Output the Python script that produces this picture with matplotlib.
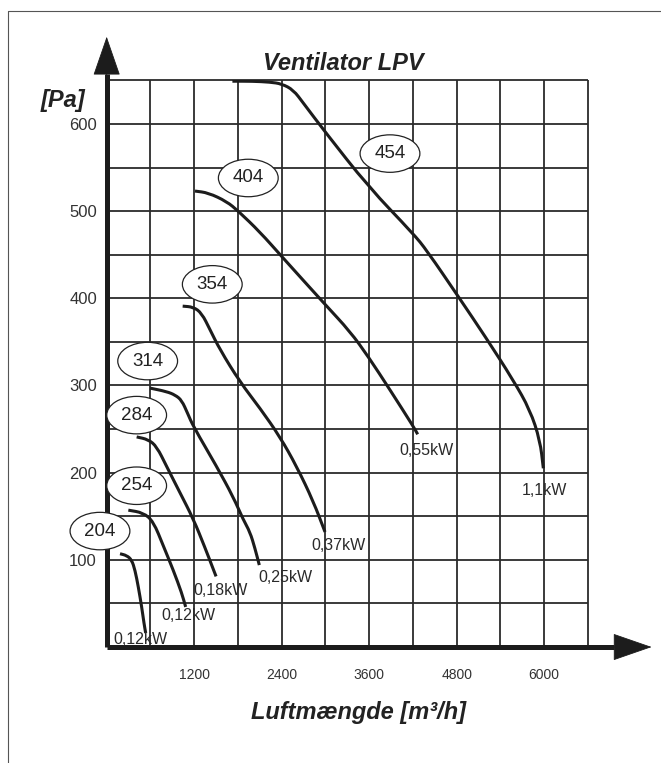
import numpy as np
import matplotlib.pyplot as plt
from matplotlib.patches import Ellipse, PathPatch
from matplotlib.path import Path

plt.rcParams['font.family'] = ['Liberation Sans', 'DejaVu Sans']

# fan curves: air flow [m3/h] vs pressure [Pa]
fan_names = ['204', '254', '284', '314', '354', '404', '454']
fan_power = ['0,12kW', '0,12kW', '0,18kW', '0,25kW', '0,37kW', '0,55kW', '1,1kW']

flow_204 = [183, 274, 343, 389, 434, 480, 512, 535]
pres_204 = [107, 105, 100, 88, 69, 46, 27, 16]

flow_254 = [297, 502, 640, 777, 914, 1029, 1083]
pres_254 = [157, 154, 144, 116, 88, 62, 46]

flow_284 = [411, 571, 686, 823, 1005, 1188, 1348, 1463, 1500]
pres_284 = [241, 238, 230, 207, 177, 147, 114, 89, 81]

flow_314 = [594, 823, 940, 1029, 1110, 1188, 1509, 1736, 1873, 1965, 2034, 2093]
pres_314 = [297, 293, 289, 283, 268, 253, 207, 172, 146, 132, 113, 94]

flow_354 = [1042, 1188, 1303, 1417, 1554, 1828, 2102, 2377, 2606, 2834, 2994]
pres_354 = [391, 390, 383, 364, 341, 304, 274, 241, 207, 167, 132]

flow_404 = [1211, 1393, 1646, 1805, 2102, 2400, 2994, 3337, 3588, 3885, 4205, 4265]
pres_404 = [523, 521, 511, 500, 476, 448, 393, 362, 333, 295, 253, 244]

flow_454 = [1724, 2000, 2240, 2400, 2560, 2696, 2994, 3588, 4205, 4389, 4822, 5200,
            5576, 5805, 5943, 5988]
pres_454 = [649, 649, 648, 646, 639, 624, 591, 528, 474, 455, 402, 355, 306, 272, 237, 205]

fan_flows = [flow_204, flow_254, flow_284, flow_314, flow_354, flow_404, flow_454]
fan_pres = [pres_204, pres_254, pres_284, pres_314, pres_354, pres_404, pres_454]

# where the size tag (ellipse) and the motor power label sit
tag_x = [-92, 411, 411, 562, 1448, 1942, 3885]
tag_y = [133, 185, 266, 328, 416, 538, 566]
power_x = [88, 754, 1188, 2079, 2811, 4013, 5691]
power_y = [4, 31, 60, 75, 111, 220, 174]

x_ticks = [1200, 2400, 3600, 4800, 6000]
y_ticks = [100, 200, 300, 400, 500, 600]
grid_x = np.arange(600, 6601, 600)
grid_y = np.arange(50, 651, 50)

ink = '#1c1c1c'


def smooth_path(xs, ys):
    # quadratic bezier through the midpoints, so the read points give a soft curve
    pts = np.column_stack([xs, ys]).astype(float)
    mids = (pts[:-1] + pts[1:]) / 2
    verts = [pts[0], mids[0]]
    codes = [Path.MOVETO, Path.LINETO]
    for i in range(1, len(pts) - 1):
        verts += [pts[i], mids[i]]
        codes += [Path.CURVE3, Path.CURVE3]
    verts.append(pts[-1])
    codes.append(Path.LINETO)
    return Path(verts, codes)


fig = plt.figure(figsize=(6.61, 7.63), dpi=100)

# thin page frame
fig.add_artist(plt.Line2D([0.0126, 0.0126, 1.0], [0.0, 0.986, 0.986],
                          transform=fig.transFigure, color='#555555', lw=0.8))

ax = fig.add_axes([0.1614, 0.1520, 0.7281, 0.7427])
ax.set_xlim(0, 6600)
ax.set_ylim(0, 650)
for s in ax.spines.values():
    s.set_visible(False)

ax.vlines(grid_x, 0, 650, color='#2b2b2b', lw=1.3, clip_on=False, zorder=1)
ax.hlines(grid_y, 0, 6600, color='#2b2b2b', lw=1.3, clip_on=False, zorder=1)

# axes with arrow heads
ax.plot([0, 0], [0, 1.012], transform=ax.transAxes, color=ink, lw=3.6,
        clip_on=False, solid_capstyle='butt', zorder=5)
ax.plot([0, 1.055], [0, 0], transform=ax.transAxes, color=ink, lw=3.6,
        clip_on=False, solid_capstyle='butt', zorder=5)
ax.annotate('', xy=(0, 1.077), xytext=(0, 1.0), xycoords='axes fraction',
            arrowprops=dict(arrowstyle='-|>,head_length=1.3,head_width=0.45',
                            mutation_scale=20, lw=0.6, color=ink,
                            shrinkA=0, shrinkB=0), annotation_clip=False, zorder=5)
ax.annotate('', xy=(1.1323, 0), xytext=(1.04, 0), xycoords='axes fraction',
            arrowprops=dict(arrowstyle='-|>,head_length=1.3,head_width=0.45',
                            mutation_scale=20, lw=0.6, color=ink,
                            shrinkA=0, shrinkB=0), annotation_clip=False, zorder=5)

for name, fx, fy, tx, ty, pw, px, py in zip(fan_names, fan_flows, fan_pres, tag_x, tag_y,
                                           fan_power, power_x, power_y):
    ax.add_patch(PathPatch(smooth_path(fx, fy), fill=False, edgecolor=ink, lw=2.2,
                           capstyle='butt', zorder=3))
    ax.add_patch(Ellipse((tx, ty), 820, 43, facecolor='white', edgecolor='#222222',
                         lw=0.9, clip_on=False, zorder=7))
    ax.text(tx, ty, name, ha='center', va='center', fontsize=13.5, color='#222222',
            zorder=8, clip_on=False)
    ax.text(px, py, pw, ha='left', va='baseline', fontsize=11.5, color='#2a2a2a', zorder=6)

ax.set_xticks(x_ticks)
ax.set_yticks(y_ticks)
ax.tick_params(length=0, colors='#333333')
ax.tick_params(axis='x', labelsize=10, pad=15)
ax.tick_params(axis='y', labelsize=12, pad=7)

fig.text(0.52, 0.9083, 'Ventilator LPV', ha='center', va='baseline', fontsize=17,
         fontweight='bold', fontstyle='italic', color='#222222')
fig.text(0.095, 0.8598, '[Pa]', ha='center', va='baseline', fontsize=17,
         fontweight='bold', fontstyle='italic', color='#222222')
fig.text(0.543, 0.0577, 'Luftmængde [m³/h]', ha='center', va='baseline', fontsize=17,
         fontweight='bold', fontstyle='italic', color='#222222')

fig.savefig('out.png', dpi=100)
